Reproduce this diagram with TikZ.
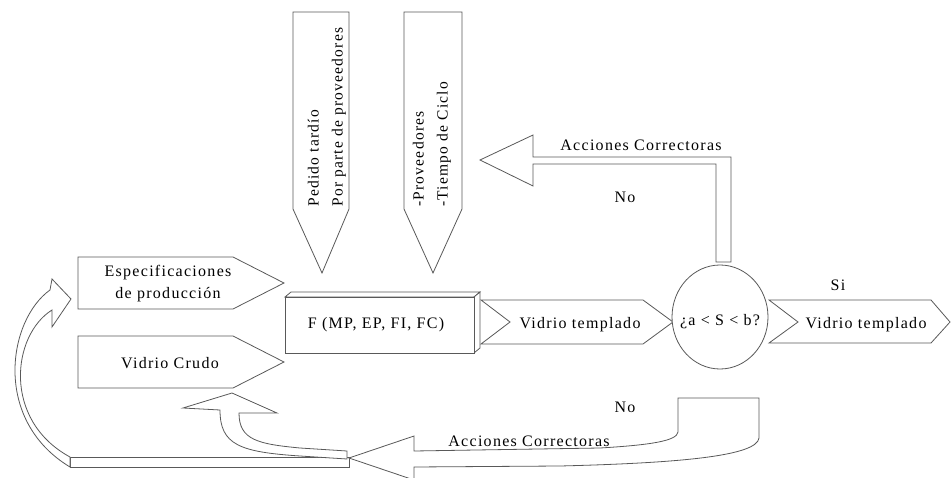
\documentclass[tikz,border=0pt]{standalone}
\usepackage{fontspec}
\setmainfont[LetterSpace=8]{Liberation Serif}
\usetikzlibrary{positioning}

\begin{document}
\begin{tikzpicture}[
  x=1pt,y=-1pt,
  blk/.style={draw=black!65,line width=0.8pt,fill=white,line join=miter},
  lbl/.style={inner sep=0pt,font=\fontsize{16}{22}\selectfont,align=center},
  vlbl/.style={lbl,rotate=90,anchor=west,align=left,font=\fontsize{15.5}{24}\selectfont}
]
  \useasboundingbox (0,0) rectangle (952,478);

  % Inputs on the left
  \draw[blk] (78,257) -- (233,257) -- (284,283) -- (233,309) -- (78,309) -- cycle;
  \node[lbl] (espec) at (168,284) {Especificaciones\\de producción};
  \draw[blk] (78,336) -- (233,336) -- (284,362) -- (233,388) -- (78,388) -- cycle;
  \node[lbl] (crudo) at (170,363) {Vidrio Crudo};

  % Inputs from above
  \draw[blk] (293,12) -- (349,12) -- (349,209) -- (322,273) -- (293,209) -- cycle;
  \node[vlbl] (pedido) at (327,207) {Pedido tardío\\Por parte de proveedores};
  \draw[blk] (404,12) -- (462,12) -- (462,209) -- (433,273) -- (404,209) -- cycle;
  \node[vlbl] (prov) at (432,207) {-Proveedores\\-Tiempo de Ciclo};

  % Process box
  \draw[blk] (285,297) -- (291,292) -- (480,292) -- (474,297) -- cycle;
  \draw[blk] (474,297) -- (480,292) -- (480,348) -- (474,353) -- cycle;
  \draw[blk] (285,297) rectangle (474,353);
  \node[lbl] (func) at (376,325) {F (MP, EP, FI, FC)};

  % Output and check
  \draw[blk] (481,300) -- (643,300) -- (673,322) -- (643,344) -- (481,344) -- (510,322) -- cycle;
  \node[lbl] (vt1) at (580,325) {Vidrio templado};
  \draw[blk] (720,317) ellipse [x radius=48,y radius=52];
  \node[lbl] (check) at (720,322) {¿a < S < b?};
  \draw[blk] (769,300) -- (931,300) -- (950,322) -- (931,343) -- (769,343) -- (798,322) -- cycle;
  \node[lbl] (vt2) at (866,325) {Vidrio templado};
  \node[lbl] (si) at (838,285) {Si};

  % Corrective actions (top)
  \draw[blk] (716,262) -- (716,164) -- (533,164) -- (533,186) -- (480,160)
    -- (533,135) -- (533,157) -- (731,157) -- (731,262) -- cycle;
  \node[lbl] (acc1) at (641,145) {Acciones Correctoras};
  \node[lbl] (no1) at (625,197) {No};

  % Corrective actions (bottom)
  \draw[blk] (70,457) rectangle (349,467);
  \draw[blk] (678,398) -- (759,398) -- (759,438) .. controls (757,456) and (680,463) .. (560,466)
    -- (414,467) -- (414,480) -- (349,458) -- (414,436) -- (414,451)
    -- (600,448) .. controls (650,445) and (677,441) .. (678,432) -- cycle;
  \node[lbl] (acc2) at (529,441) {Acciones Correctoras};
  \node[lbl] (no2) at (625,407) {No};

  % Return arrows
  \draw[blk] (220,410) -- (183,408) -- (232,393) -- (277,413) -- (239,413)
    .. controls (239,440) and (258,444) .. (300,448) -- (347,451) -- (347,459)
    -- (300,456) .. controls (240,452) and (220,445) .. cycle;
  \draw[blk] (50,290) -- (52,279) -- (71,299) -- (52,327) -- (52,310)
    .. controls (12,335) and (2,420) .. (70,457) -- (70,467)
    .. controls (-8,420) and (8,320) .. cycle;
\end{tikzpicture}
\end{document}
